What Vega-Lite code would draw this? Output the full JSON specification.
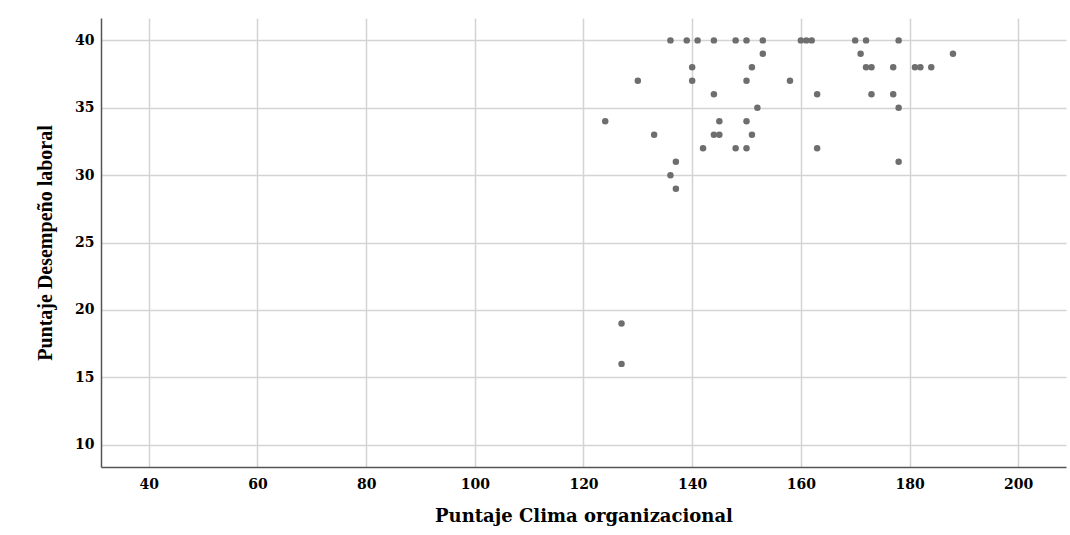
{
  "$schema": "https://vega.github.io/schema/vega-lite/v6.json",
  "autosize": "none",
  "width": 965,
  "height": 449,
  "padding": {"left": 101, "top": 18, "right": 4, "bottom": 68},
  "background": "white",
  "config": {"view": {"stroke": null}},
  "data": {
    "values": [
      {"clima": 136, "desempeno": 40}, {"clima": 139, "desempeno": 40}, {"clima": 141, "desempeno": 40},
      {"clima": 144, "desempeno": 40}, {"clima": 148, "desempeno": 40}, {"clima": 150, "desempeno": 40},
      {"clima": 153, "desempeno": 40}, {"clima": 160, "desempeno": 40}, {"clima": 161, "desempeno": 40},
      {"clima": 162, "desempeno": 40}, {"clima": 170, "desempeno": 40}, {"clima": 172, "desempeno": 40},
      {"clima": 178, "desempeno": 40},
      {"clima": 153, "desempeno": 39}, {"clima": 171, "desempeno": 39}, {"clima": 188, "desempeno": 39},
      {"clima": 140, "desempeno": 38}, {"clima": 151, "desempeno": 38}, {"clima": 172, "desempeno": 38},
      {"clima": 173, "desempeno": 38}, {"clima": 177, "desempeno": 38}, {"clima": 181, "desempeno": 38},
      {"clima": 182, "desempeno": 38}, {"clima": 184, "desempeno": 38},
      {"clima": 130, "desempeno": 37}, {"clima": 140, "desempeno": 37}, {"clima": 150, "desempeno": 37},
      {"clima": 158, "desempeno": 37},
      {"clima": 144, "desempeno": 36}, {"clima": 163, "desempeno": 36}, {"clima": 173, "desempeno": 36},
      {"clima": 177, "desempeno": 36},
      {"clima": 152, "desempeno": 35}, {"clima": 178, "desempeno": 35},
      {"clima": 124, "desempeno": 34}, {"clima": 145, "desempeno": 34}, {"clima": 150, "desempeno": 34},
      {"clima": 133, "desempeno": 33}, {"clima": 144, "desempeno": 33}, {"clima": 145, "desempeno": 33},
      {"clima": 151, "desempeno": 33},
      {"clima": 142, "desempeno": 32}, {"clima": 148, "desempeno": 32}, {"clima": 150, "desempeno": 32},
      {"clima": 163, "desempeno": 32},
      {"clima": 137, "desempeno": 31}, {"clima": 178, "desempeno": 31},
      {"clima": 136, "desempeno": 30}, {"clima": 137, "desempeno": 29},
      {"clima": 127, "desempeno": 19}, {"clima": 127, "desempeno": 16}
    ]
  },
  "mark": {"type": "circle", "size": 42, "color": "#6e6e6e", "opacity": 1},
  "encoding": {
    "x": {
      "field": "clima", "type": "quantitative",
      "scale": {"domain": [31.2, 208.8], "nice": false, "zero": false},
      "axis": {
        "title": "Puntaje Clima organizacional",
        "values": [40, 60, 80, 100, 120, 140, 160, 180, 200],
        "ticks": false,
        "grid": true, "gridColor": "#d4d4d4", "gridWidth": 1.5,
        "domainColor": "#555555", "domainWidth": 1.5,
        "labelFont": "DejaVu Serif", "labelFontWeight": "bold", "labelFontSize": 14, "labelColor": "#000000",
        "labelPadding": 10,
        "titleFont": "DejaVu Serif", "titleFontWeight": "bold", "titleFontSize": 18, "titleColor": "#000000",
        "titlePadding": 16
      }
    },
    "y": {
      "field": "desempeno", "type": "quantitative",
      "scale": {"domain": [8.35, 41.66], "nice": false, "zero": false},
      "axis": {
        "title": "Puntaje Desempeño laboral",
        "values": [10, 15, 20, 25, 30, 35, 40],
        "ticks": false,
        "grid": true, "gridColor": "#d4d4d4", "gridWidth": 1.5,
        "domainColor": "#555555", "domainWidth": 1.5,
        "labelFont": "DejaVu Serif", "labelFontWeight": "bold", "labelFontSize": 14, "labelColor": "#000000",
        "labelPadding": 7,
        "titleFont": "Liberation Serif", "titleFontWeight": "bold", "titleFontSize": 20, "titleColor": "#000000",
        "titlePadding": 19
      }
    }
  }
}
